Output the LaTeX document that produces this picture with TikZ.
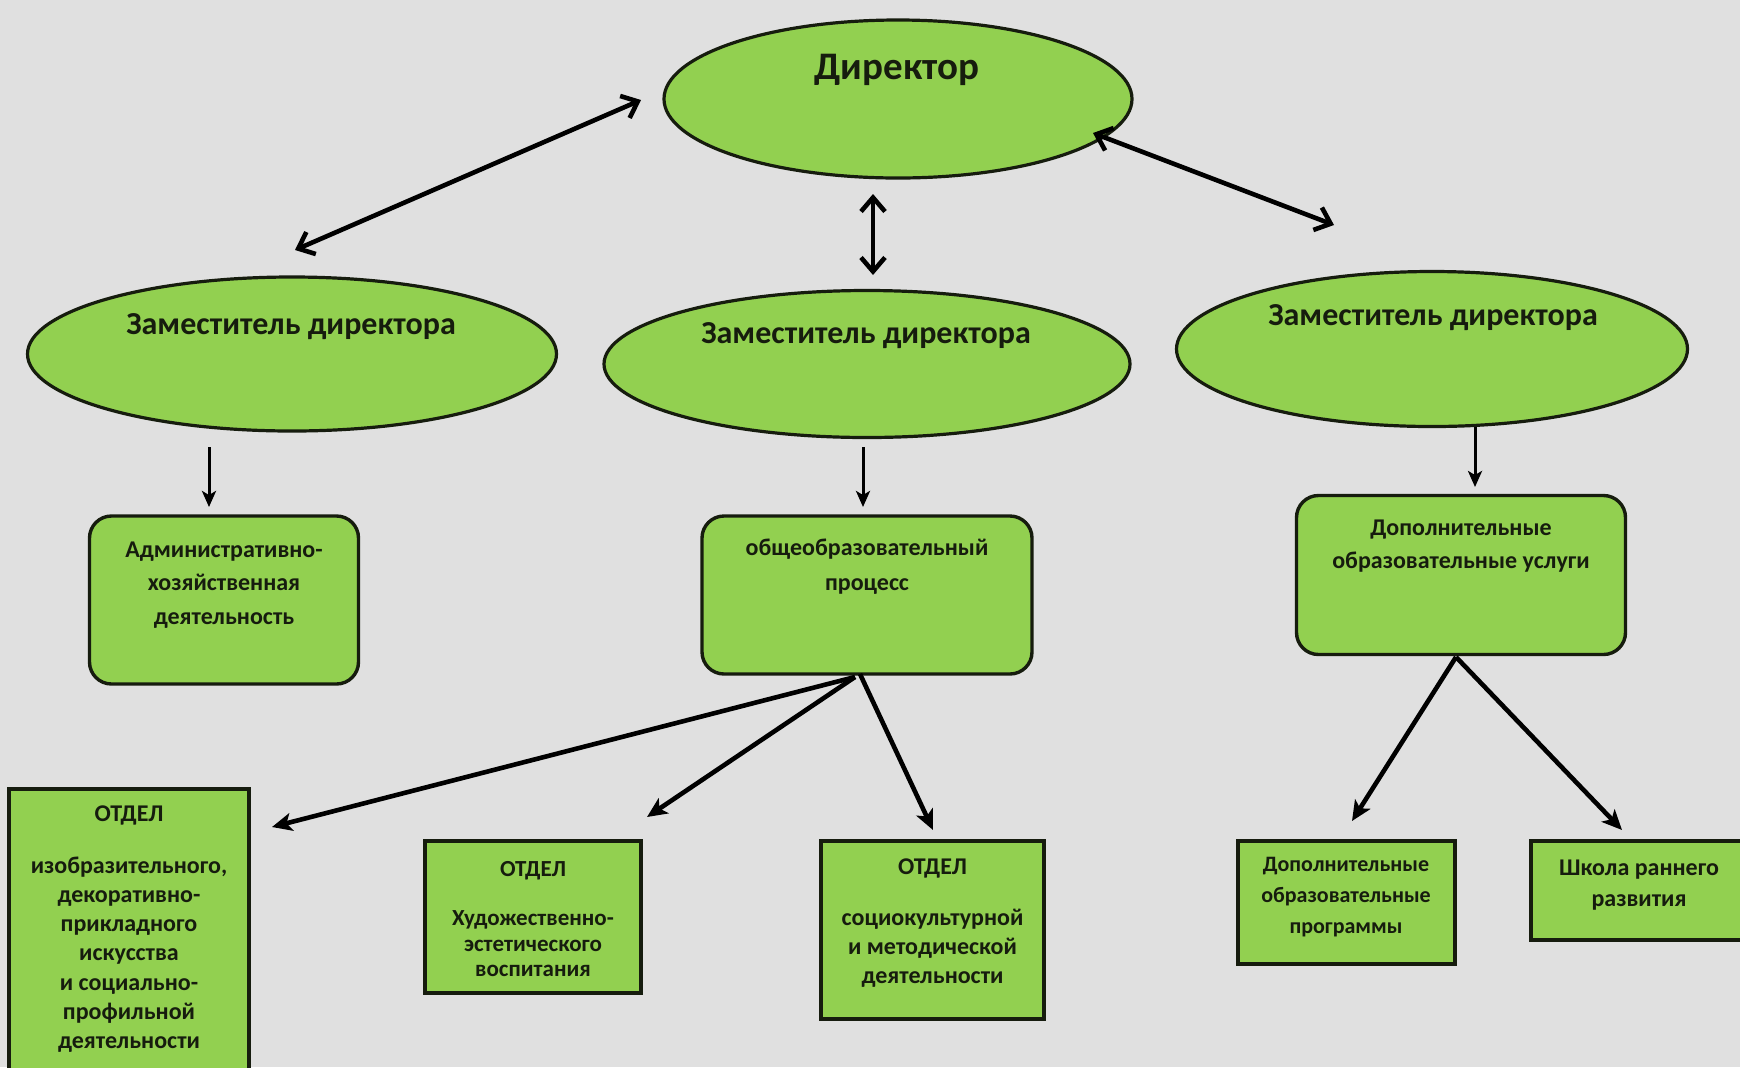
\documentclass[tikz,border=0pt]{standalone}
\usepackage{fontspec}
\setmainfont{Carlito}
\usetikzlibrary{arrows.meta,shapes.geometric}
\definecolor{bg}{RGB}{224,224,224}
\definecolor{leaf}{RGB}{146,208,80}
\definecolor{ink}{RGB}{22,28,14}
\begin{document}
\begin{tikzpicture}[x=0.5pt,y=-0.5pt,
  oval/.style={ellipse,draw=ink,fill=leaf,line width=1.6pt,inner sep=0pt},
  rbox/.style={rectangle,rounded corners=11pt,draw=ink,fill=leaf,line width=1.7pt,inner sep=0pt},
  sbox/.style={rectangle,draw=ink,fill=leaf,line width=1.7pt,inner sep=0pt},
  txt/.style={text=ink,font=\bfseries,align=center,inner sep=0pt},
  biarrow/.style={draw=black,line width=2.3pt,{Straight Barb[length=7pt,width=12pt]}-{Straight Barb[length=7pt,width=12pt]}},
  onearrow/.style={draw=black,line width=2.3pt,-{Stealth[length=10pt,width=9pt,inset=2.5pt]}},
  thinarrow/.style={draw=black,line width=1.5pt,-{Stealth[length=8pt,width=7pt,inset=2pt]}}]
\useasboundingbox (0,0) rectangle (1740,1067);
\clip (0,0) rectangle (1740,1067);
\fill[bg] (0,0) rectangle (1740,1067);

% ellipses
\node[oval,minimum width=234pt,minimum height=79pt] (dir) at (898,99) {};
\node[txt,font=\bfseries\fontsize{19.5}{22}\selectfont] (dirt) at (897,70) {Директор};
\node[oval,minimum width=264.5pt,minimum height=77pt] (zl) at (292,354) {};
\node[txt,font=\bfseries\fontsize{16}{19}\selectfont] (zlt) at (291,327) {Заместитель директора};
\node[oval,minimum width=263pt,minimum height=73.5pt] (zm) at (867,364) {};
\node[txt,font=\bfseries\fontsize{16}{19}\selectfont] (zmt) at (866,336) {Заместитель директора};
\node[oval,minimum width=255.5pt,minimum height=77.5pt] (zr) at (1432,349) {};
\node[txt,font=\bfseries\fontsize{16}{19}\selectfont] (zrt) at (1433,318) {Заместитель директора};

% rounded boxes
\node[rbox,minimum width=134.5pt,minimum height=84pt] (adm) at (224,600) {};
\node[txt,font=\bfseries\fontsize{12}{16.75}\selectfont] (admt) at (224,585) {Административно-\\хозяйственная\\деятельность};
\node[rbox,minimum width=165pt,minimum height=79pt] (gen) at (867,595) {};
\node[txt,font=\bfseries\fontsize{12}{17.5}\selectfont] (gent) at (867,567) {общеобразовательный\\процесс};
\node[rbox,minimum width=164.5pt,minimum height=79.5pt] (dop) at (1461,575) {};
\node[txt,font=\bfseries\fontsize{12}{16.5}\selectfont] (dopt) at (1461,546) {Дополнительные\\образовательные услуги};

% square boxes
\node[sbox,minimum width=120pt,minimum height=155.5pt] (o1) at (129,944.5) {};
\node[txt,font=\bfseries\fontsize{12}{14.6}\selectfont] (o1t) at (129,929) {ОТДЕЛ\\[11.4pt]изобразительного,\\декоративно-\\прикладного\\искусства\\и социально-\\профильной\\деятельности};
\node[sbox,minimum width=108pt,minimum height=76pt] (o2) at (533,917) {};
\node[txt,font=\bfseries\fontsize{11.5}{12.75}\selectfont] (o2t) at (533,919) {ОТДЕЛ\\[12.2pt]Художественно-\\эстетического\\воспитания};
\node[sbox,minimum width=111.5pt,minimum height=89pt] (o3) at (932.5,930) {};
\node[txt,font=\bfseries\fontsize{12}{14.5}\selectfont] (o3t) at (932.5,923) {ОТДЕЛ\\[11pt]социокультурной\\и методической\\деятельности};
\node[sbox,minimum width=108.5pt,minimum height=61.5pt] (p1) at (1346.5,902.5) {};
\node[txt,font=\bfseries\fontsize{11}{15.5}\selectfont] (p1t) at (1346,897) {Дополнительные\\образовательные\\программы};
\node[sbox,minimum width=114.5pt,minimum height=49.5pt] (p2) at (1645.5,890.5) {};
\node[txt,font=\bfseries\fontsize{12}{15.5}\selectfont] (p2t) at (1639,885.5) {Школа раннего\\развития};

% connector end points
\coordinate (dirL) at (641,100);  \coordinate (zlT) at (295,250);
\coordinate (dirB) at (873,194);  \coordinate (zmT) at (873,275);
\coordinate (dirR) at (1093,133); \coordinate (zrT) at (1334,225);
\coordinate (zlB) at (209,447);   \coordinate (admT) at (209,507);
\coordinate (zmB) at (863,447);   \coordinate (genT) at (863,507);
\coordinate (zrB) at (1475,427);  \coordinate (dopT) at (1475,487);
\coordinate (genB) at (855,677);  \coordinate (genB2) at (860,674);
\coordinate (o1T) at (272,827);   \coordinate (o2T) at (647,817);  \coordinate (o3T) at (933,830);
\coordinate (dopB) at (1456,657);
\coordinate (p1T) at (1352,821);  \coordinate (p2T) at (1622,830);

\draw[biarrow] (dirL) -- (zlT);
\draw[biarrow] (dirB) -- (zmT);
\draw[biarrow] (dirR) -- (zrT);
\draw[thinarrow] (zlB) -- (admT);
\draw[thinarrow] (zmB) -- (genT);
\draw[thinarrow] (zrB) -- (dopT);
\draw[onearrow] (genB) -- (o1T);
\draw[onearrow] (genB) -- (o2T);
\draw[onearrow] (genB2) -- (o3T);
\draw[onearrow] (dopB) -- (p1T);
\draw[onearrow] (dopB) -- (p2T);
\end{tikzpicture}
\end{document}
